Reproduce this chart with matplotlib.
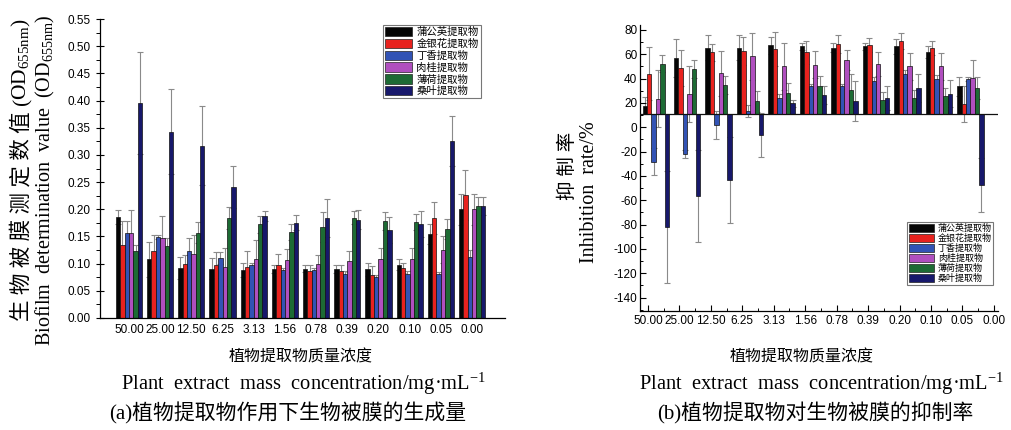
import matplotlib
matplotlib.use("Agg")
import matplotlib.pyplot as plt
import numpy as np
from matplotlib.patches import Patch
from matplotlib.ticker import MultipleLocator

plt.rcParams['mathtext.fontset'] = 'custom'
plt.rcParams['mathtext.rm'] = 'Liberation Serif'
plt.rcParams['mathtext.it'] = 'Liberation Serif:italic'

CJK = ['Liberation Serif', 'Noto Sans CJK SC']
TICKF = 'Liberation Sans'

concentrations = ['50.00', '25.00', '12.50', '6.25', '3.13', '1.56', '0.78', '0.39', '0.20', '0.10', '0.05', '0.00']
extracts = ['蒲公英提取物', '金银花提取物', '丁香提取物', '肉桂提取物', '薄荷提取物', '桑叶提取物']
colors = ['#050505', '#e8221e', '#3253b5', '#b04fbf', '#1d6b34', '#17186b']

# (a) Biofilm OD655 values and errors (12 concentrations)
od_dandelion = [0.186, 0.108, 0.092, 0.091, 0.089, 0.090, 0.091, 0.090, 0.090, 0.098, 0.154, 0.200]
od_honeysuckle = [0.135, 0.124, 0.100, 0.097, 0.094, 0.098, 0.086, 0.087, 0.080, 0.092, 0.184, 0.227]
od_clove = [0.156, 0.149, 0.123, 0.110, 0.097, 0.088, 0.088, 0.081, 0.075, 0.081, 0.081, 0.112]
od_cinnamon = [0.156, 0.147, 0.118, 0.094, 0.108, 0.106, 0.099, 0.104, 0.108, 0.108, 0.126, 0.200]
od_mint = [0.123, 0.132, 0.157, 0.184, 0.172, 0.158, 0.167, 0.184, 0.178, 0.176, 0.164, 0.206]
od_mulberry = [0.396, 0.343, 0.317, 0.241, 0.188, 0.175, 0.184, 0.181, 0.162, 0.173, 0.326, 0.206]
od_err_dandelion = [0.013, 0.032, 0.020, 0.019, 0.013, 0.008, 0.007, 0.008, 0.012, 0.010, 0.018, 0.029]
od_err_honeysuckle = [0.043, 0.029, 0.015, 0.024, 0.029, 0.020, 0.012, 0.010, 0.015, 0.009, 0.030, 0.046]
od_err_clove = [0.022, 0.004, 0.024, 0.011, 0.004, 0.004, 0.004, 0.005, 0.005, 0.005, 0.004, 0.014]
od_err_cinnamon = [0.042, 0.040, 0.035, 0.035, 0.036, 0.021, 0.017, 0.019, 0.021, 0.021, 0.025, 0.029]
od_err_mint = [0.012, 0.015, 0.019, 0.020, 0.015, 0.015, 0.028, 0.012, 0.017, 0.015, 0.018, 0.016]
od_err_mulberry = [0.094, 0.079, 0.073, 0.038, 0.009, 0.014, 0.035, 0.018, 0.024, 0.024, 0.046, 0.016]

# (b) Inhibition rate (%) for the first 11 concentrations
inh_dandelion = [17.8, 56.8, 65.5, 65.5, 67.2, 66.4, 65.5, 66.4, 66.4, 61.7, 33.6]
inh_honeysuckle = [44.0, 48.6, 61.5, 62.8, 64.5, 61.7, 68.5, 67.7, 71.0, 65.0, 19.0]
inh_clove = [-28.3, -22.3, 1.5, 13.0, 24.0, 33.6, 33.6, 38.3, 44.0, 39.6, 39.6]
inh_cinnamon = [23.3, 27.6, 44.5, 58.2, 50.0, 51.4, 54.9, 51.9, 50.0, 50.0, 40.5]
inh_mint = [52.2, 47.8, 35.0, 21.4, 28.2, 34.2, 30.4, 22.2, 24.1, 25.5, 32.3]
inh_mulberry = [-81.7, -56.4, -43.5, -6.4, 19.5, 26.8, 21.9, 23.8, 32.3, 27.4, -47.6]
inh_err_dandelion = [6.8, 15.6, 9.9, 9.9, 6.8, 3.2, 3.6, 2.7, 6.0, 5.2, 7.7]
inh_err_honeysuckle = [21.8, 14.5, 7.0, 11.7, 14.1, 9.4, 7.4, 5.5, 6.8, 6.0, 15.0]
inh_err_clove = [11.1, 3.2, 11.5, 5.0, 3.6, 2.2, 2.2, 3.0, 3.3, 3.6, 1.7]
inh_err_cinnamon = [23.4, 22.9, 18.5, 19.6, 19.6, 10.9, 8.2, 9.6, 10.9, 10.9, 14.4]
inh_err_mint = [6.8, 7.7, 7.4, 8.6, 8.2, 7.6, 13.6, 6.5, 6.8, 6.8, 9.0]
inh_err_mulberry = [46.1, 38.1, 35.2, 18.0, 3.2, 7.4, 16.4, 9.8, 11.7, 11.1, 22.4]
baseline_b = 10.5

od_vals = [od_dandelion, od_honeysuckle, od_clove, od_cinnamon, od_mint, od_mulberry]
od_errs = [od_err_dandelion, od_err_honeysuckle, od_err_clove, od_err_cinnamon, od_err_mint, od_err_mulberry]
inh_vals = [inh_dandelion, inh_honeysuckle, inh_clove, inh_cinnamon, inh_mint, inh_mulberry]
inh_errs = [inh_err_dandelion, inh_err_honeysuckle, inh_err_clove, inh_err_cinnamon, inh_err_mint, inh_err_mulberry]

fig = plt.figure(figsize=(10.11, 4.30), dpi=100)
fig.patch.set_facecolor('white')

bw = 0.14
ecol = '#8a8a8a'

# ---------- (a) ----------
axa = fig.add_axes([100/1011, 1-318/430, 405/1011, 299/430])
x = np.arange(len(concentrations))
for i, (vals, errs) in enumerate(zip(od_vals, od_errs)):
    pos = x + (i - 2.5) * bw
    axa.bar(pos, vals, bw, color=colors[i], edgecolor='#111111', linewidth=0.5, zorder=2)
    axa.errorbar(pos, vals, yerr=errs, fmt='none', ecolor=ecol, elinewidth=0.8,
                 capsize=2, capthick=0.8, zorder=1)
axa.set_xlim(-0.93, 12.06)
axa.set_ylim(0, 0.55)
axa.set_xticks(x)
axa.set_xticklabels(concentrations, fontsize=8.5, family=TICKF)
axa.tick_params(axis='x', length=0, pad=4)
axa.set_yticks(np.arange(0, 0.551, 0.05))
axa.set_yticklabels([f'{v:.2f}' for v in np.arange(0, 0.551, 0.05)], fontsize=8.5, family=TICKF)
axa.yaxis.set_minor_locator(MultipleLocator(0.025))
axa.tick_params(axis='y', which='major', direction='inout', length=6, width=0.8)
axa.tick_params(axis='y', which='minor', direction='out', length=3, width=0.7)
for s in ['top', 'right']:
    axa.spines[s].set_visible(False)
for s in ['left', 'bottom']:
    axa.spines[s].set_linewidth(0.9)
handles = [Patch(facecolor=c, edgecolor='#222222', linewidth=0.5) for c in colors]
lga = axa.legend(handles, extracts, loc='upper left', bbox_to_anchor=(283/405, 1-6/299),
                 prop={'family': CJK, 'size': 7.5}, frameon=True, fancybox=False,
                 handlelength=2.6, handleheight=1.0, handletextpad=0.4, labelspacing=0.15,
                 borderpad=0.2, borderaxespad=0)
lga.get_frame().set_edgecolor('#555555')
lga.get_frame().set_linewidth(0.8)

# ---------- (b) ----------
axb = fig.add_axes([640/1011, 1-311/430, 358/1011, 286/430])
xg = np.arange(len(inh_dandelion)) + 0.25
for i, (vals, errs) in enumerate(zip(inh_vals, inh_errs)):
    pos = xg + (i - 2.5) * bw
    heights = np.array(vals) - baseline_b
    axb.bar(pos, heights, bw, bottom=baseline_b, color=colors[i], edgecolor='#111111',
            linewidth=0.5, zorder=2)
    axb.errorbar(pos, vals, yerr=errs, fmt='none', ecolor=ecol, elinewidth=0.8,
                 capsize=2, capthick=0.8, zorder=1)
axb.axhline(baseline_b, color='#111111', linewidth=0.9, zorder=3)
axb.set_xlim(-0.25, 11.13)
axb.set_ylim(-151, 84)
axb.set_xticks(np.arange(len(concentrations)))
axb.set_xticklabels(concentrations, fontsize=8.5, family=TICKF)
axb.xaxis.set_minor_locator(MultipleLocator(0.5))
axb.tick_params(axis='x', which='major', direction='in', length=4, width=0.8, pad=3)
axb.tick_params(axis='x', which='minor', direction='in', length=2.5, width=0.7)
axb.set_yticks(np.arange(-140, 81, 20))
axb.set_yticklabels([str(v) for v in range(-140, 81, 20)], fontsize=8.5, family=TICKF)
axb.yaxis.set_minor_locator(MultipleLocator(10))
axb.tick_params(axis='y', which='major', direction='in', length=4, width=0.8, pad=2)
axb.tick_params(axis='y', which='minor', direction='in', length=2.5, width=0.7)
for s in ['top', 'right']:
    axb.spines[s].set_visible(False)
for s in ['left', 'bottom']:
    axb.spines[s].set_linewidth(0.9)
lgb = axb.legend(handles, extracts, loc='upper left', bbox_to_anchor=(267/358, 1-197/286),
                 prop={'family': CJK, 'size': 6.5}, frameon=True, fancybox=False,
                 handlelength=2.8, handleheight=1.0, handletextpad=0.4, labelspacing=0.1,
                 borderpad=0.2, borderaxespad=0)
lgb.get_frame().set_edgecolor('#555555')
lgb.get_frame().set_linewidth(0.8)

# ---------- labels ----------
W, H = 1011, 430
def ft(xp, yp, s, size, ha='center', va='center', **kw):
    return fig.text(xp / W, 1 - yp / H, s, fontsize=size, family=CJK, ha=ha, va=va, **kw)

# Chinese y label of (a): CJK part + separate mathtext part (mathtext lacks CJK fallback)
t1 = ft(21, 321, '生 物 被 膜 测 定 数 值 (', 15.5, va='bottom', rotation=90)
fig.canvas.draw()
bb = t1.get_window_extent(fig.canvas.get_renderer())
top_px = bb.y1
fig.text(21 / W, (top_px - 1) / H, 'OD$_{\\mathrm{655nm}}$)', fontsize=15.5, family='Liberation Serif',
         ha='center', va='bottom', rotation=90)

ft(45, 180, 'Biofilm  determination  value  (OD$_{\\mathrm{655nm}}$)', 14.5, rotation=90)
ft(568, 166, '抑 制 率', 14, rotation=90)
ft(590, 192, 'Inhibition  rate/%', 14.5, rotation=90)

ft(301, 357, '植物提取物质量浓度', 11.5)
ft(304, 384, 'Plant  extract  mass  concentration/mg·mL$^{\\mathrm{-1}}$', 14.8)
ft(288, 413, '(a)植物提取物作用下生物被膜的生成量', 15)
ft(802, 357, '植物提取物质量浓度', 11.5)
ft(822, 384, 'Plant  extract  mass  concentration/mg·mL$^{\\mathrm{-1}}$', 14.8)
ft(815, 413, '(b)植物提取物对生物被膜的抑制率', 15)

fig.savefig('out.png', dpi=100, facecolor='white')
